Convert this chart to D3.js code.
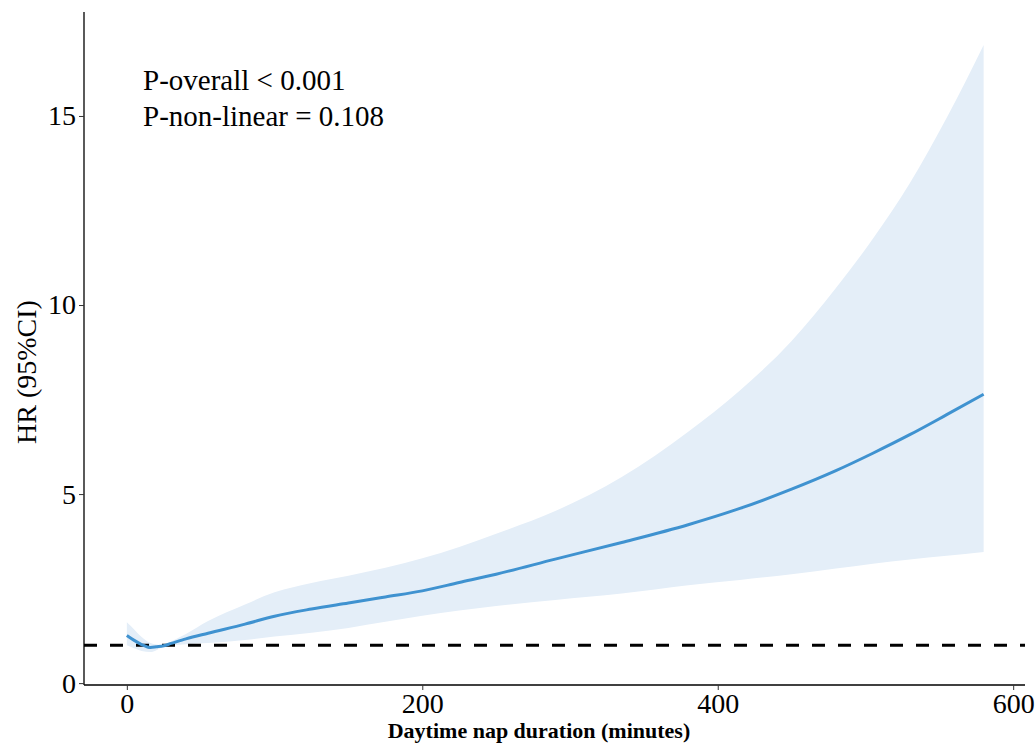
<!DOCTYPE html>
<html>
<head>
<meta charset="utf-8">
<script src="https://cdn.jsdelivr.net/npm/d3@7"></script>
<style>
  html, body { margin: 0; padding: 0; background: #fff; }
  svg { display: block; }
</style>
</head>
<body>
<svg id="chart" width="1035" height="744"></svg>
<script>
// ---- Data ----
const napMinutes = [0, 5, 10, 16, 20, 25, 30, 40, 55, 80, 100, 125, 150, 175, 200, 225, 250, 290, 335, 380, 415, 450, 480, 505, 530, 555, 580];
const hrValues   = [1.26, 1.13, 1.02, 0.94, 0.96, 0.99, 1.05, 1.17, 1.32, 1.56, 1.77, 1.96, 2.12, 2.28, 2.44, 2.66, 2.88, 3.28, 3.72, 4.19, 4.62, 5.13, 5.62, 6.08, 6.57, 7.10, 7.64];
const hrUpper    = [1.61, 1.42, 1.22, 1.06, 1.02, 1.00, 1.10, 1.30, 1.64, 2.08, 2.40, 2.65, 2.84, 3.05, 3.30, 3.60, 3.95, 4.55, 5.45, 6.65, 7.74, 9.05, 10.45, 11.75, 13.22, 14.95, 16.88];
const hrLower    = [1.00, 0.92, 0.85, 0.82, 0.87, 0.97, 1.00, 1.03, 1.06, 1.14, 1.23, 1.33, 1.46, 1.62, 1.78, 1.92, 2.04, 2.20, 2.37, 2.59, 2.73, 2.88, 3.03, 3.16, 3.27, 3.37, 3.47];
const xTicks = [0, 200, 400, 600];
const yTicks = [0, 5, 10, 15];
const refHR = 1;
const annotations = ["P-overall < 0.001", "P-non-linear = 0.108"];
const xTitle = "Daytime nap duration (minutes)";
const yTitle = "HR (95%CI)";

// ---- Layout ----
const W = 1035, H = 744;
const panel = { left: 84, right: 1025, top: 12, bottom: 685 };
const svg = d3.select("#chart");

const x = d3.scaleLinear().domain([-29, 608]).range([panel.left, panel.right]);
const y = d3.scaleLinear().domain([-0.05, 17.75]).range([panel.bottom, panel.top]);

const rows = napMinutes.map((m, i) => ({ m, hr: hrValues[i], lo: hrLower[i], hi: hrUpper[i] }));

// Confidence band
svg.append("path")
  .datum(rows)
  .attr("fill", "#e4eef8")
  .attr("d", d3.area().x(d => x(d.m)).y0(d => y(d.lo)).y1(d => y(d.hi)).curve(d3.curveMonotoneX));

// Reference line HR = 1
svg.append("line")
  .attr("x1", panel.left).attr("x2", panel.right)
  .attr("y1", y(refHR)).attr("y2", y(refHR))
  .attr("stroke", "#000").attr("stroke-width", 3)
  .attr("stroke-dasharray", "13,13");

// HR line
svg.append("path")
  .datum(rows)
  .attr("fill", "none")
  .attr("stroke", "#3f92d0")
  .attr("stroke-width", 3)
  .attr("d", d3.line().x(d => x(d.m)).y(d => y(d.hr)).curve(d3.curveMonotoneX));

// Axes
const font = "'Liberation Serif', 'Times New Roman', serif";
const xAxis = svg.append("g")
  .attr("transform", `translate(0,${panel.bottom})`)
  .call(d3.axisBottom(x).tickValues(xTicks).tickSize(5).tickPadding(3).tickSizeOuter(0));
const yAxis = svg.append("g")
  .attr("transform", `translate(${panel.left},0)`)
  .call(d3.axisLeft(y).tickValues(yTicks).tickSize(5).tickPadding(3).tickSizeOuter(0));

[xAxis, yAxis].forEach(g => {
  g.select(".domain").attr("stroke", "#000").attr("stroke-width", 1.3);
  g.selectAll(".tick line").attr("stroke", "#333").attr("stroke-width", 1);
  g.selectAll(".tick text").attr("fill", "#000").style("font-family", font).style("font-size", "28px");
});
xAxis.select(".domain").attr("d", `M${panel.left},0H${panel.right}`);
yAxis.select(".domain").attr("d", `M0,${panel.top}V${panel.bottom}`);

// Axis titles
svg.append("text")
  .attr("x", 539).attr("y", 738)
  .attr("text-anchor", "middle")
  .style("font-family", font).style("font-size", "22px").style("font-weight", "bold")
  .text(xTitle);

svg.append("text")
  .attr("transform", `translate(36,${372}) rotate(-90)`)
  .attr("text-anchor", "middle")
  .style("font-family", font).style("font-size", "28px")
  .text(yTitle);

// Annotations
annotations.forEach((t, i) => {
  svg.append("text")
    .attr("x", 143).attr("y", 90 + i * 36)
    .style("font-family", font).style("font-size", "29px")
    .text(t);
});
</script>
</body>
</html>
